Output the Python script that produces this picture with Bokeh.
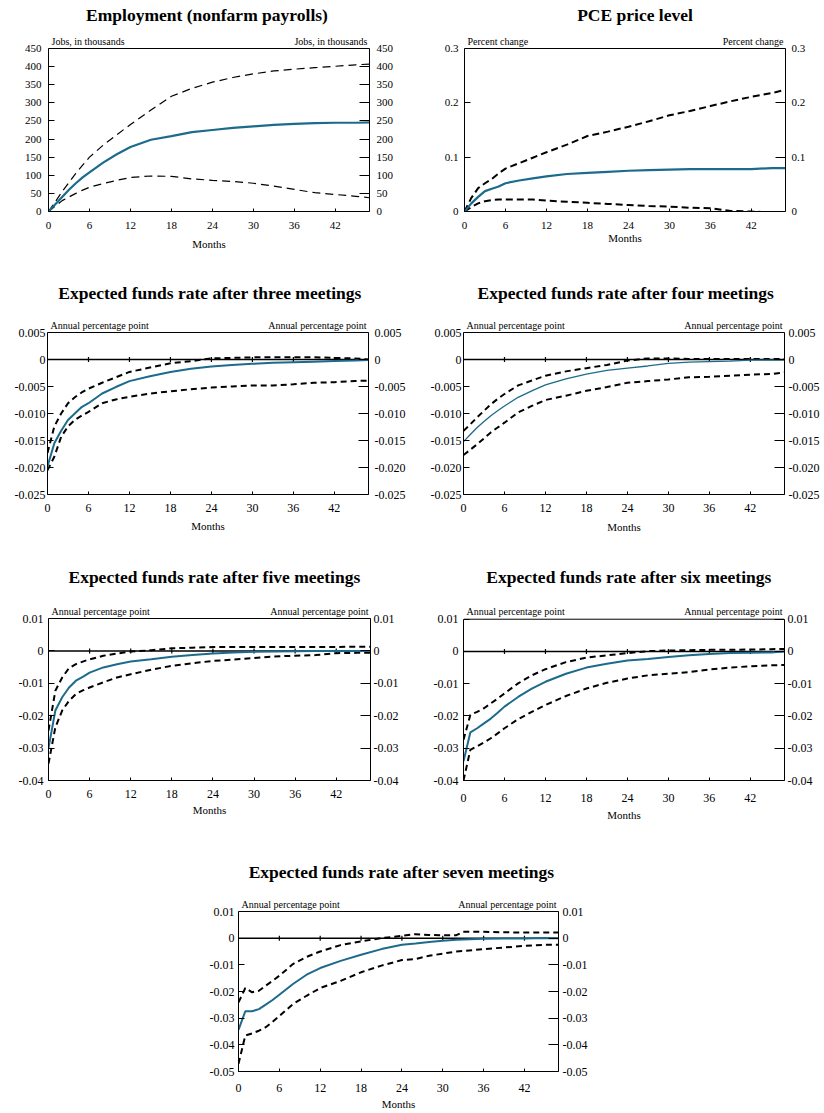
import math
from bokeh.plotting import figure
from bokeh.models import LinearAxis, FixedTicker, Label, Span, Range1d
from bokeh.layouts import column, row
from bokeh.embed import file_html
from bokeh.resources import INLINE

FONT = "Liberation Serif"
BLUE = "#1c6b8c"

X_TICKS = [0, 6, 12, 18, 24, 30, 36, 42]
X_MAX = 47

MONTHS = [0, 1, 2, 3, 4, 5, 6, 8, 10, 12, 15, 18, 21, 24, 27, 30, 33, 36, 39, 42, 45, 47]
MONTHS_7 = [0, 1, 2, 3, 4, 5, 6, 8, 10, 12, 15, 18, 21, 24, 26, 28, 30, 32, 33, 36, 39, 42, 45, 47]

# ---- Employment (nonfarm payrolls), jobs in thousands
emp_mid = [0, 20, 40, 60, 78, 94, 108, 135, 158, 178, 198, 208, 219, 225, 231, 235, 239, 242, 244, 245, 245, 246]
emp_hi = [0, 27, 55, 80, 105, 128, 150, 183, 212, 240, 280, 318, 340, 357, 370, 380, 388, 393, 397, 401, 405, 407]
emp_lo = [0, 15, 30, 40, 50, 59, 67, 77, 86, 94, 98, 97, 90, 86, 83, 78, 70, 61, 52, 47, 42, 38]

# ---- PCE price level, percent change
pce_mid = [0, 0.015, 0.027, 0.0375, 0.042, 0.046, 0.052, 0.057, 0.061, 0.0645, 0.069, 0.071, 0.073, 0.075, 0.076, 0.077, 0.078, 0.078, 0.078, 0.078, 0.080, 0.080]
pce_hi = [0, 0.025, 0.043, 0.052, 0.060, 0.070, 0.079, 0.089, 0.099, 0.109, 0.123, 0.139, 0.147, 0.156, 0.166, 0.177, 0.185, 0.194, 0.203, 0.211, 0.218, 0.224]
pce_lo = [0, 0.008, 0.015, 0.019, 0.021, 0.022, 0.022, 0.022, 0.022, 0.020, 0.018, 0.016, 0.014, 0.012, 0.010, 0.009, 0.007, 0.006, 0.001, 0.000, -0.002, -0.003]

# ---- Expected funds rate after three meetings
m3_mid = [-0.0198, -0.0155, -0.0132, -0.0112, -0.0100, -0.0088, -0.0081, -0.0063, -0.0051, -0.0040, -0.0031, -0.0023, -0.0017, -0.0013, -0.0010, -0.0008, -0.0006, -0.0005, -0.0004, -0.0003, -0.0002, -0.0001]
m3_hi = [-0.0173, -0.0124, -0.0100, -0.0081, -0.0070, -0.0061, -0.0054, -0.0043, -0.0033, -0.0023, -0.0015, -0.0007, -0.0003, 0.0002, 0.0003, 0.0004, 0.0004, 0.0004, 0.0004, 0.0003, 0.0002, 0.0000]
m3_lo = [-0.0205, -0.0180, -0.0143, -0.0124, -0.0112, -0.0104, -0.0097, -0.0081, -0.0074, -0.0069, -0.0063, -0.0059, -0.0055, -0.0052, -0.0050, -0.0048, -0.0048, -0.0046, -0.0043, -0.0042, -0.0040, -0.0039]

# ---- Expected funds rate after four meetings
m4_mid = [-0.0152, -0.0139, -0.0126, -0.0115, -0.0104, -0.0095, -0.0086, -0.0070, -0.0058, -0.0047, -0.0036, -0.0027, -0.0020, -0.0016, -0.0012, -0.0007, -0.0005, -0.0004, -0.0003, -0.0001, -0.0001, -0.0001]
m4_hi = [-0.0132, -0.0120, -0.0107, -0.0095, -0.0083, -0.0073, -0.0064, -0.0048, -0.0039, -0.0030, -0.0022, -0.0016, -0.0010, -0.0002, 0.0002, 0.0002, 0.0001, 0.0001, 0.0001, 0.0001, 0.0001, 0.0001]
m4_lo = [-0.0177, -0.0167, -0.0157, -0.0146, -0.0135, -0.0126, -0.0117, -0.0098, -0.0086, -0.0075, -0.0067, -0.0058, -0.0051, -0.0043, -0.0040, -0.0037, -0.0033, -0.0032, -0.0030, -0.0028, -0.0027, -0.0024]

# ---- Expected funds rate after five meetings
m5_mid = [-0.0300, -0.0184, -0.0143, -0.0113, -0.0092, -0.0080, -0.0067, -0.0051, -0.0041, -0.0033, -0.0026, -0.0018, -0.0013, -0.0008, -0.0005, -0.0003, -0.0002, -0.0001, 0.0000, 0.0000, 0.0000, 0.0000]
m5_hi = [-0.0246, -0.0123, -0.0082, -0.0053, -0.0041, -0.0033, -0.0026, -0.0015, -0.0008, -0.0002, 0.0002, 0.0008, 0.0010, 0.0012, 0.0012, 0.0012, 0.0012, 0.0012, 0.0012, 0.0012, 0.0013, 0.0013]
m5_lo = [-0.0348, -0.0236, -0.0184, -0.0154, -0.0133, -0.0122, -0.0113, -0.0097, -0.0082, -0.0072, -0.0058, -0.0046, -0.0038, -0.0031, -0.0027, -0.0022, -0.0017, -0.0015, -0.0013, -0.0007, -0.0006, -0.0006]

# ---- Expected funds rate after six meetings
m6_mid = [-0.0340, -0.0251, -0.0238, -0.0223, -0.0208, -0.0190, -0.0171, -0.0141, -0.0115, -0.0094, -0.0069, -0.0050, -0.0038, -0.0028, -0.0023, -0.0017, -0.0012, -0.0008, -0.0005, -0.0004, -0.0003, 0.0000]
m6_hi = [-0.0274, -0.0197, -0.0187, -0.0176, -0.0161, -0.0146, -0.0130, -0.0099, -0.0074, -0.0055, -0.0033, -0.0019, -0.0012, -0.0005, 0.0001, 0.0003, 0.0004, 0.0005, 0.0005, 0.0006, 0.0007, 0.0008]
m6_lo = [-0.0400, -0.0305, -0.0294, -0.0282, -0.0269, -0.0254, -0.0238, -0.0210, -0.0187, -0.0166, -0.0138, -0.0115, -0.0097, -0.0084, -0.0074, -0.0069, -0.0064, -0.0056, -0.0050, -0.0046, -0.0043, -0.0042]

# ---- Expected funds rate after seven meetings
m7_mid = [-0.0344, -0.0274, -0.0274, -0.0266, -0.0249, -0.0232, -0.0212, -0.0172, -0.0137, -0.0112, -0.0085, -0.0062, -0.0041, -0.0025, -0.0020, -0.0014, -0.0010, -0.0006, -0.0005, -0.0002, -0.0001, -0.0001, 0.0001, 0.0000]
m7_hi = [-0.0241, -0.0187, -0.0203, -0.0197, -0.0178, -0.0160, -0.0141, -0.0097, -0.0070, -0.0050, -0.0026, -0.0012, 0.0000, 0.0009, 0.0015, 0.0012, 0.0011, 0.0011, 0.0024, 0.0024, 0.0022, 0.0021, 0.0021, 0.0021]
m7_lo = [-0.0471, -0.0365, -0.0357, -0.0347, -0.0334, -0.0314, -0.0292, -0.0247, -0.0216, -0.0187, -0.0160, -0.0128, -0.0103, -0.0082, -0.0078, -0.0066, -0.0058, -0.0050, -0.0048, -0.0041, -0.0035, -0.0029, -0.0025, -0.0025]

# ---- y ticks and labels
EMP_TICKS = [0, 50, 100, 150, 200, 250, 300, 350, 400, 450]
EMP_LABELS = ["0", "50", "100", "150", "200", "250", "300", "350", "400", "450"]
PCE_TICKS = [0, 0.1, 0.2, 0.3]
PCE_LABELS = ["0", "0.1", "0.2", "0.3"]
T34_TICKS = [-0.025, -0.020, -0.015, -0.010, -0.005, 0, 0.005]
T34_LABELS = ["-0.025", "-0.020", "-0.015", "-0.010", "-0.005", "0", "0.005"]
T56_TICKS = [-0.04, -0.03, -0.02, -0.01, 0, 0.01]
T56_LABELS = ["-0.04", "-0.03", "-0.02", "-0.01", "0", "0.01"]
T7_TICKS = [-0.05, -0.04, -0.03, -0.02, -0.01, 0, 0.01]
T7_LABELS = ["-0.05", "-0.04", "-0.03", "-0.02", "-0.01", "0", "0.01"]

TITLES = [
    "Employment (nonfarm payrolls)",
    "PCE price level",
    "Expected funds rate after three meetings",
    "Expected funds rate after four meetings",
    "Expected funds rate after five meetings",
    "Expected funds rate after six meetings",
    "Expected funds rate after seven meetings",
]
UNITS = ["Jobs, in thousands", "Percent change"] + ["Annual percentage point"] * 5


def make_panel(title, unit, months, mid, hi, lo, ticks, labels, geo, sty):
    w, h, bl, br, head, bb = geo["size"]
    ymin, ymax = ticks[0], ticks[-1]
    body = h - head - bb
    # the frame reaches up to the figure top so titles drawn in it stay visible
    ytop = ymax + (ymax - ymin) * head / body
    p = figure(width=w, height=h, x_range=Range1d(0, X_MAX),
               y_range=Range1d(ymin, ytop),
               output_backend="svg", toolbar_location=None,
               min_border_left=bl, min_border_right=br,
               min_border_top=0, min_border_bottom=bb)
    p.grid.visible = False
    p.outline_line_color = None
    p.background_fill_color = "white"
    p.border_fill_color = "white"

    overrides = {t: l for t, l in zip(ticks, labels)}
    fs = sty["tick_fs"]

    xa = p.xaxis[0]
    xa.ticker = FixedTicker(ticks=X_TICKS)
    xa.major_tick_in = 3
    xa.major_tick_out = 0
    xa.minor_tick_in = 0
    xa.minor_tick_out = 0
    xa.axis_line_color = "black"
    xa.major_label_text_font = FONT
    xa.major_label_text_font_size = fs
    xa.major_label_text_color = "black"
    xa.major_label_standoff = geo["xl_standoff"]
    xa.axis_label = "Months"
    xa.axis_label_text_font = FONT
    xa.axis_label_text_font_style = "normal"
    xa.axis_label_text_font_size = "11px"
    xa.axis_label_text_color = "black"
    xa.axis_label_standoff = geo["months_standoff"]

    ya = p.yaxis[0]
    ya.bounds = (ymin, ymax)
    ya.ticker = FixedTicker(ticks=ticks)
    ya.major_label_overrides = overrides
    ya.major_tick_in = 6
    ya.major_tick_out = 0
    ya.minor_tick_in = 0
    ya.minor_tick_out = 0
    ya.axis_line_color = "black"
    ya.major_label_text_font = FONT
    ya.major_label_text_font_size = fs
    ya.major_label_text_color = "black"
    ya.major_label_standoff = geo["yl_standoff"]

    ra = LinearAxis(bounds=(ymin, ymax), ticker=FixedTicker(ticks=ticks),
                    major_label_overrides=overrides,
                    major_tick_in=10, major_tick_out=0, minor_tick_in=0, minor_tick_out=0,
                    axis_line_color="black", major_label_text_font=FONT,
                    major_label_text_font_size=fs, major_label_text_color="black",
                    major_label_standoff=geo["yr_standoff"])
    p.add_layout(ra, "right")

    # top border of the chart box
    p.add_layout(Span(location=ymax, dimension="width", line_color="black", line_width=1))

    if sty["zero"]:
        p.add_layout(Span(location=0, dimension="width", line_color="black",
                          line_width=1.5, level="underlay"))
        zt = [t for t in X_TICKS if t > 0]
        p.scatter(x=zt, y=[0] * len(zt), marker="dash", angle=math.pi / 2,
                  size=5, line_color="black", line_width=1.2)

    p.line(months, hi, line_color="black", line_width=sty["dash_w"], line_dash=sty["dash"])
    p.line(months, lo, line_color="black", line_width=sty["dash_w"], line_dash=sty["dash"])
    p.line(months, mid, line_color=BLUE, line_width=sty["mid_w"])

    p.add_layout(Label(x=X_MAX / 2, y=ymax, x_offset=geo["title_dx"], y_offset=geo["title_dy"],
                       text=title, text_align="center", text_baseline="middle",
                       text_font=FONT, text_font_style="bold",
                       text_font_size="17.5px", text_color="black"))
    p.add_layout(Label(x=0, y=ymax, x_offset=3, y_offset=2, text=unit,
                       text_align="left", text_baseline="bottom",
                       text_font=FONT, text_font_size="10px", text_color="black"))
    p.add_layout(Label(x=X_MAX, y=ymax, x_offset=-2, y_offset=2, text=unit,
                       text_align="right", text_baseline="bottom",
                       text_font=FONT, text_font_size="10px", text_color="black"))
    return p


STY_EMP = dict(tick_fs="11px", zero=False, dash="8 5", dash_w=1.2, mid_w=2.2)
STY_PCE = dict(tick_fs="11px", zero=False, dash="7 4", dash_w=2, mid_w=2.2)
STY_FR = dict(tick_fs="12px", zero=True, dash="6 4", dash_w=2, mid_w=2)
STY_FR4 = dict(tick_fs="12px", zero=True, dash="6 4", dash_w=2, mid_w=1.3)

# size = (width, height, left border, right border, head above the box, bottom border)
GEO = [
    dict(size=(412, 270, 48, 43, 48, 59), xl_standoff=10, months_standoff=6, yl_standoff=7, yr_standoff=7, title_dx=-2, title_dy=34),
    dict(size=(411, 270, 52, 38, 48, 59), xl_standoff=10, months_standoff=0, yl_standoff=6, yr_standoff=6, title_dx=10, title_dy=34),
    dict(size=(412, 282, 47, 44, 62, 58), xl_standoff=9, months_standoff=5, yl_standoff=2, yr_standoff=6, title_dx=2, title_dy=40),
    dict(size=(411, 282, 51, 39, 62, 58), xl_standoff=9, months_standoff=6, yl_standoff=2, yr_standoff=4, title_dx=2, title_dy=40),
    dict(size=(412, 286, 48, 42, 66, 58), xl_standoff=9, months_standoff=3, yl_standoff=5, yr_standoff=3, title_dx=5, title_dy=42),
    dict(size=(411, 286, 51, 39, 67, 57), xl_standoff=13, months_standoff=4, yl_standoff=5, yr_standoff=3, title_dx=5, title_dy=42),
    dict(size=(823, 274, 238, 265, 73, 41), xl_standoff=12, months_standoff=3, yl_standoff=4, yr_standoff=4, title_dx=3, title_dy=40),
]

f1 = make_panel(TITLES[0], UNITS[0], MONTHS, emp_mid, emp_hi, emp_lo, EMP_TICKS, EMP_LABELS, GEO[0], STY_EMP)
f2 = make_panel(TITLES[1], UNITS[1], MONTHS, pce_mid, pce_hi, pce_lo, PCE_TICKS, PCE_LABELS, GEO[1], STY_PCE)
f3 = make_panel(TITLES[2], UNITS[2], MONTHS, m3_mid, m3_hi, m3_lo, T34_TICKS, T34_LABELS, GEO[2], STY_FR)
f4 = make_panel(TITLES[3], UNITS[3], MONTHS, m4_mid, m4_hi, m4_lo, T34_TICKS, T34_LABELS, GEO[3], STY_FR4)
f5 = make_panel(TITLES[4], UNITS[4], MONTHS, m5_mid, m5_hi, m5_lo, T56_TICKS, T56_LABELS, GEO[4], STY_FR)
f6 = make_panel(TITLES[5], UNITS[5], MONTHS, m6_mid, m6_hi, m6_lo, T56_TICKS, T56_LABELS, GEO[5], STY_FR)
f7 = make_panel(TITLES[6], UNITS[6], MONTHS_7, m7_mid, m7_hi, m7_lo, T7_TICKS, T7_LABELS, GEO[6], STY_FR)

layout = column(row(f1, f2), row(f3, f4), row(f5, f6), f7)

open("out.html", "w").write(file_html(layout, INLINE))
